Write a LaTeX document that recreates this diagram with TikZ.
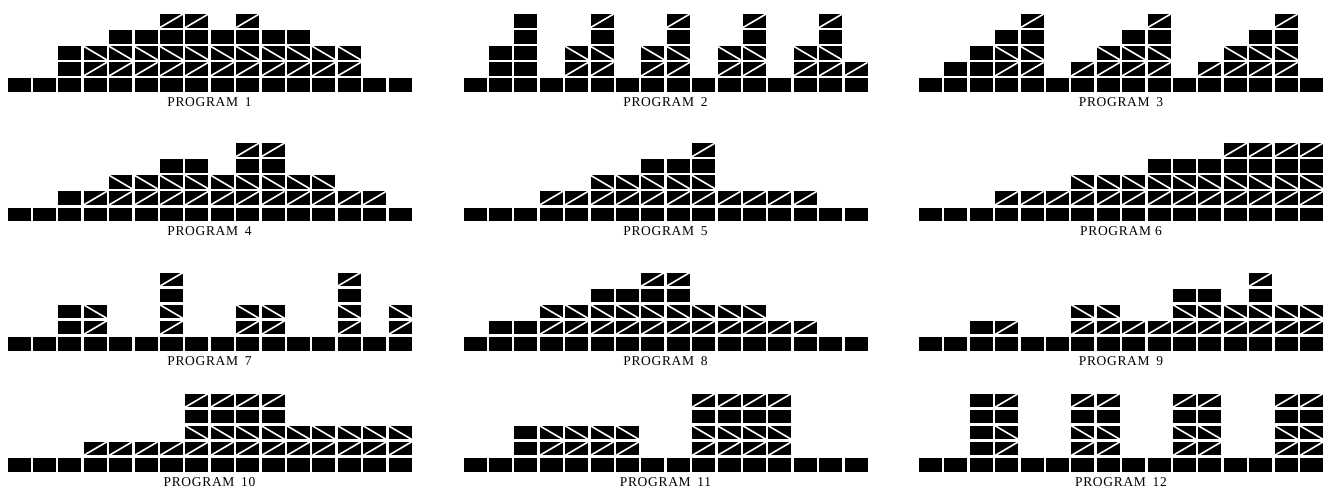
\documentclass[tikz,border=0pt]{standalone}
\usepackage{fontspec}
\setmainfont{Liberation Serif}
\newfontfamily\etiketFont[LetterSpace=5]{Liberation Serif}
\usepackage{tikz}
\usetikzlibrary{calc}
\definecolor{siyah}{HTML}{000000}
\tikzset{
  blok/.style={fill=siyah},
  capraz/.style={white,line width=1.6pt},
  etiket/.style={anchor=base,font=\etiketFont\fontsize{13.5}{15}\selectfont}
}
% #1 name, #2 left, #3 bottom, #4 column codes, #5 label
\newcommand{\programChart}[5]{%
  \foreach \v [count=\i from 0] in {#4} {
    \pgfmathsetmacro\bx{#2+\i*25.4}
    \fill[blok] (\bx,#3) rectangle ++(23,13.5);
    \pgfmathtruncatemacro\n{abs(\v)}
    \ifnum\n>0
      \foreach \k in {1,...,\n} {
        \pgfmathsetmacro\by{#3+\k*16.1}
        \fill[blok] (\bx,\by) rectangle ++(23,13.5);
        \ifnum\v>0
          \ifcase\k\or
            \draw[capraz] (\bx,\by) -- ++(23,13.5);
          \or
            \draw[capraz] (\bx,\by+13.5) -- ++(23,-13.5);
          \or\or
            \draw[capraz] (\bx,\by) -- ++(23,13.5);
          \fi
        \fi
      }
    \fi
  }
  \node[etiket] (#1) at (#2+202,#3-14.5) {#5};
}

\begin{document}
\begin{tikzpicture}[x=1pt,y=1pt]
\useasboundingbox (0,0) rectangle (1332,491);
\programChart{p1}{7.5}{399}{0,0,-2,2,3,3,4,4,3,4,3,3,2,2,0,0}{PROGRAM\enspace 1}
\programChart{p2}{463.5}{399}{0,-2,-4,0,2,4,0,2,4,0,2,4,0,2,4,1}{PROGRAM\enspace 2}
\programChart{p3}{919}{399}{0,-1,-2,3,4,0,1,2,3,4,0,1,2,3,4,0}{PROGRAM\enspace 3}
\programChart{p4}{7.5}{270}{0,0,-1,1,2,2,3,3,2,4,4,2,2,1,1,0}{PROGRAM\enspace 4}
\programChart{p5}{463.5}{270}{0,0,0,1,1,2,2,3,3,4,1,1,1,1,0,0}{PROGRAM\enspace 5}
\programChart{p6}{919}{270}{0,0,0,1,1,1,2,2,2,3,3,3,4,4,4,4}{PROGRAM 6}
\programChart{p7}{7.5}{140.5}{0,0,-2,2,0,0,4,0,0,2,2,0,0,4,0,2}{PROGRAM\enspace 7}
\programChart{p8}{463.5}{140.5}{0,-1,-1,2,2,3,3,4,4,2,2,2,1,1,0,0}{PROGRAM\enspace 8}
\programChart{p9}{919}{140.5}{0,0,-1,1,0,0,2,2,1,1,3,3,2,4,2,2}{PROGRAM\enspace 9}
\programChart{p10}{7.5}{19.5}{0,0,0,1,1,1,1,4,4,4,4,2,2,2,2,2}{PROGRAM\enspace 10}
\programChart{p11}{463.5}{19.5}{0,0,-2,2,2,2,2,0,0,4,4,4,4,0,0,0}{PROGRAM\enspace 11}
\programChart{p12}{919}{19.5}{0,0,-4,4,0,0,4,4,0,0,4,4,0,0,4,4}{PROGRAM\enspace 12}
\end{tikzpicture}
\end{document}
